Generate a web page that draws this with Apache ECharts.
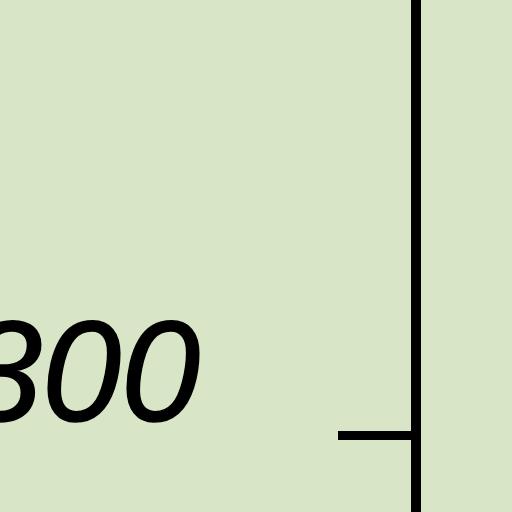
<!DOCTYPE html>
<html>
<head>
<meta charset="utf-8">
<script src="https://cdn.jsdelivr.net/npm/echarts@6/dist/echarts.min.js"></script>
<style>
  html, body { margin: 0; padding: 0; background: #d9e5c7; overflow: hidden; width: 512px; height: 512px; }
  /* the chart is taller than the window; only the 300 tick is in view */
  #chart { position: absolute; left: 0; top: -130px; width: 512px; height: 1130px; }
</style>
</head>
<body>
<div id="chart"></div>
<script>
const yMin = 200;
const yMax = 400;
const yStep = 100;
const categories = ['A'];
const values = [null];

let chart = echarts.init(document.getElementById('chart'));
let option = {
    backgroundColor: '#d9e5c7',
    animation: false,
    grid: {
        left: 416,
        right: 0,
        top: 0,
        bottom: 0,
        outerBoundsMode: 'none'
    },
    xAxis: {
        type: 'category',
        data: categories,
        show: false
    },
    yAxis: {
        type: 'value',
        min: yMin,
        max: yMax,
        interval: yStep,
        splitLine: { show: false },
        axisLine: {
            show: true,
            lineStyle: { color: '#000', width: 10 }
        },
        axisTick: {
            show: true,
            length: 78,
            lineStyle: { color: '#000', width: 9 }
        },
        axisLabel: {
            color: '#000',
            fontFamily: 'Liberation Sans',
            fontStyle: 'italic',
            fontSize: 142,
            margin: 216,
            verticalAlign: 'bottom',
            lineHeight: 108,
            textBorderColor: '#000',
            textBorderWidth: 1.5
        }
    },
    series: [
        {
            type: 'line',
            data: values,
            showSymbol: false
        }
    ]
};
chart.setOption(option);
</script>
</body>
</html>
